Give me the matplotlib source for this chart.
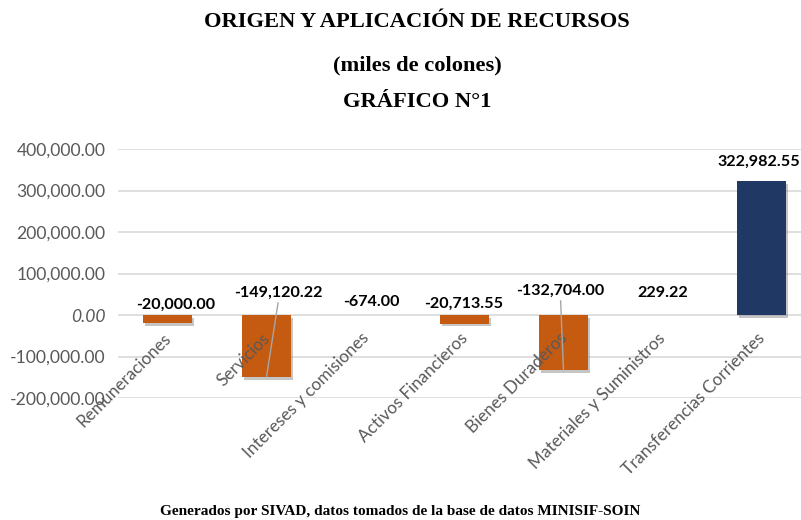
import matplotlib
matplotlib.use('Agg')
import matplotlib.pyplot as plt
import matplotlib.patheffects as pe
import matplotlib.transforms as mtransforms

# datos del gráfico (miles de colones)
categorias = ['Remuneraciones', 'Servicios', 'Intereses y comisiones',
              'Activos Financieros', 'Bienes Duraderos',
              'Materiales y Suministros', 'Transferencias Corrientes']
valores = [-20000.00, -149120.22, -674.00, -20713.55, -132704.00,
           229.22, 322982.55]
colores = ['#C55A11', '#C55A11', '#C55A11', '#C55A11', '#C55A11',
           '#C55A11', '#203864']
yticks = [-200000, -100000, 0, 100000, 200000, 300000, 400000]

# desplazamiento de las etiquetas (pixeles) y lineas guia
lab_dx = [8, 12, 6, -1, -3, 0, -3]
lab_dy = [3, 15, 6, 4, 17, 15, 12]
guia = [False, True, False, False, True, False, False]

W, H = 801, 520
fig = plt.figure(figsize=(W / 100, H / 100), dpi=100)
ax = fig.add_axes([118 / W, 1 - 398 / H, 693 / W, 249 / H])
ax.set_axisbelow(False)

# lineas de la cuadricula por detras de las barras
for v in yticks:
    ax.axhline(v, color='#D9D9D9', linewidth=1.2, zorder=0.5)

x = list(range(len(categorias)))
bars = ax.bar(x, valores, width=0.5, color=colores, zorder=2)
for b in bars:
    b.set_path_effects([pe.SimplePatchShadow(offset=(1.5, -2), shadow_rgbFace='#7f7f7f', alpha=0.45),
                        pe.Normal()])

ax.set_xlim(-0.5, len(categorias) - 0.5)
ax.set_ylim(-200000, 400000)
ax.set_yticks(yticks)
ax.set_yticklabels([f'{v:,.2f}' for v in yticks])
ax.tick_params(axis='y', length=0, pad=9, labelsize=12.6, labelcolor='#595959')
for t in ax.get_yticklabels():
    t.set_fontfamily('Lato')
    if t.get_text() == '0.00':
        t.set_fontstyle('italic')

# eje de categorias sobre la linea cero
ax.spines['bottom'].set_position(('data', 0))
for s in ['top', 'right', 'left', 'bottom']:
    ax.spines[s].set_visible(False)
ax.set_xticks(x)
ax.set_xticklabels(categorias, rotation=45, ha='right', va='top',
                   rotation_mode='anchor', family='Lato', fontsize=12.3,
                   color='#595959')
ax.tick_params(axis='x', length=0, pad=10)
shift = mtransforms.ScaledTranslation(-5 / 100, -1 / 100, fig.dpi_scale_trans)
for t in ax.get_xticklabels():
    t.set_transform(t.get_transform() + shift)

# etiquetas de datos
for i, v in enumerate(valores):
    base = max(v, 0)
    off = mtransforms.ScaledTranslation(lab_dx[i] / 100, lab_dy[i] / 100, fig.dpi_scale_trans)
    kw = {}
    if guia[i]:
        kw['arrowprops'] = dict(arrowstyle='-', color='#A6A6A6', lw=1,
                                shrinkA=0, shrinkB=0, relpos=(0.5, 0))
        xy = (i, v)
    else:
        xy = (i, base)
    ax.annotate(f'{v:,.2f}', xy=xy, xytext=(i, base),
                textcoords=ax.transData + off,
                ha='center', va='bottom', fontsize=11.6, fontweight='bold',
                family='Lato', color='black', zorder=5, annotation_clip=False,
                **kw)

serif = 'Liberation Serif'
fig.text(417 / W, 1 - 22 / H, 'ORIGEN Y APLICACIÓN DE RECURSOS', ha='center', va='center',
         family=serif, fontweight='bold', fontsize=16.2)
fig.text(417 / W, 1 - 65 / H, '(miles de colones)', ha='center', va='center',
         family=serif, fontweight='bold', fontsize=16.2)
fig.text(417 / W, 1 - 102 / H, 'GRÁFICO N°1', ha='center', va='center',
         family=serif, fontweight='bold', fontsize=16.2)
fig.text(400 / W, 1 - 511 / H, 'Generados por SIVAD, datos tomados de la base de datos MINISIF-SOIN',
         ha='center', va='center', family=serif, fontweight='bold', fontsize=11)

fig.savefig('out.png', dpi=100, facecolor='white')
